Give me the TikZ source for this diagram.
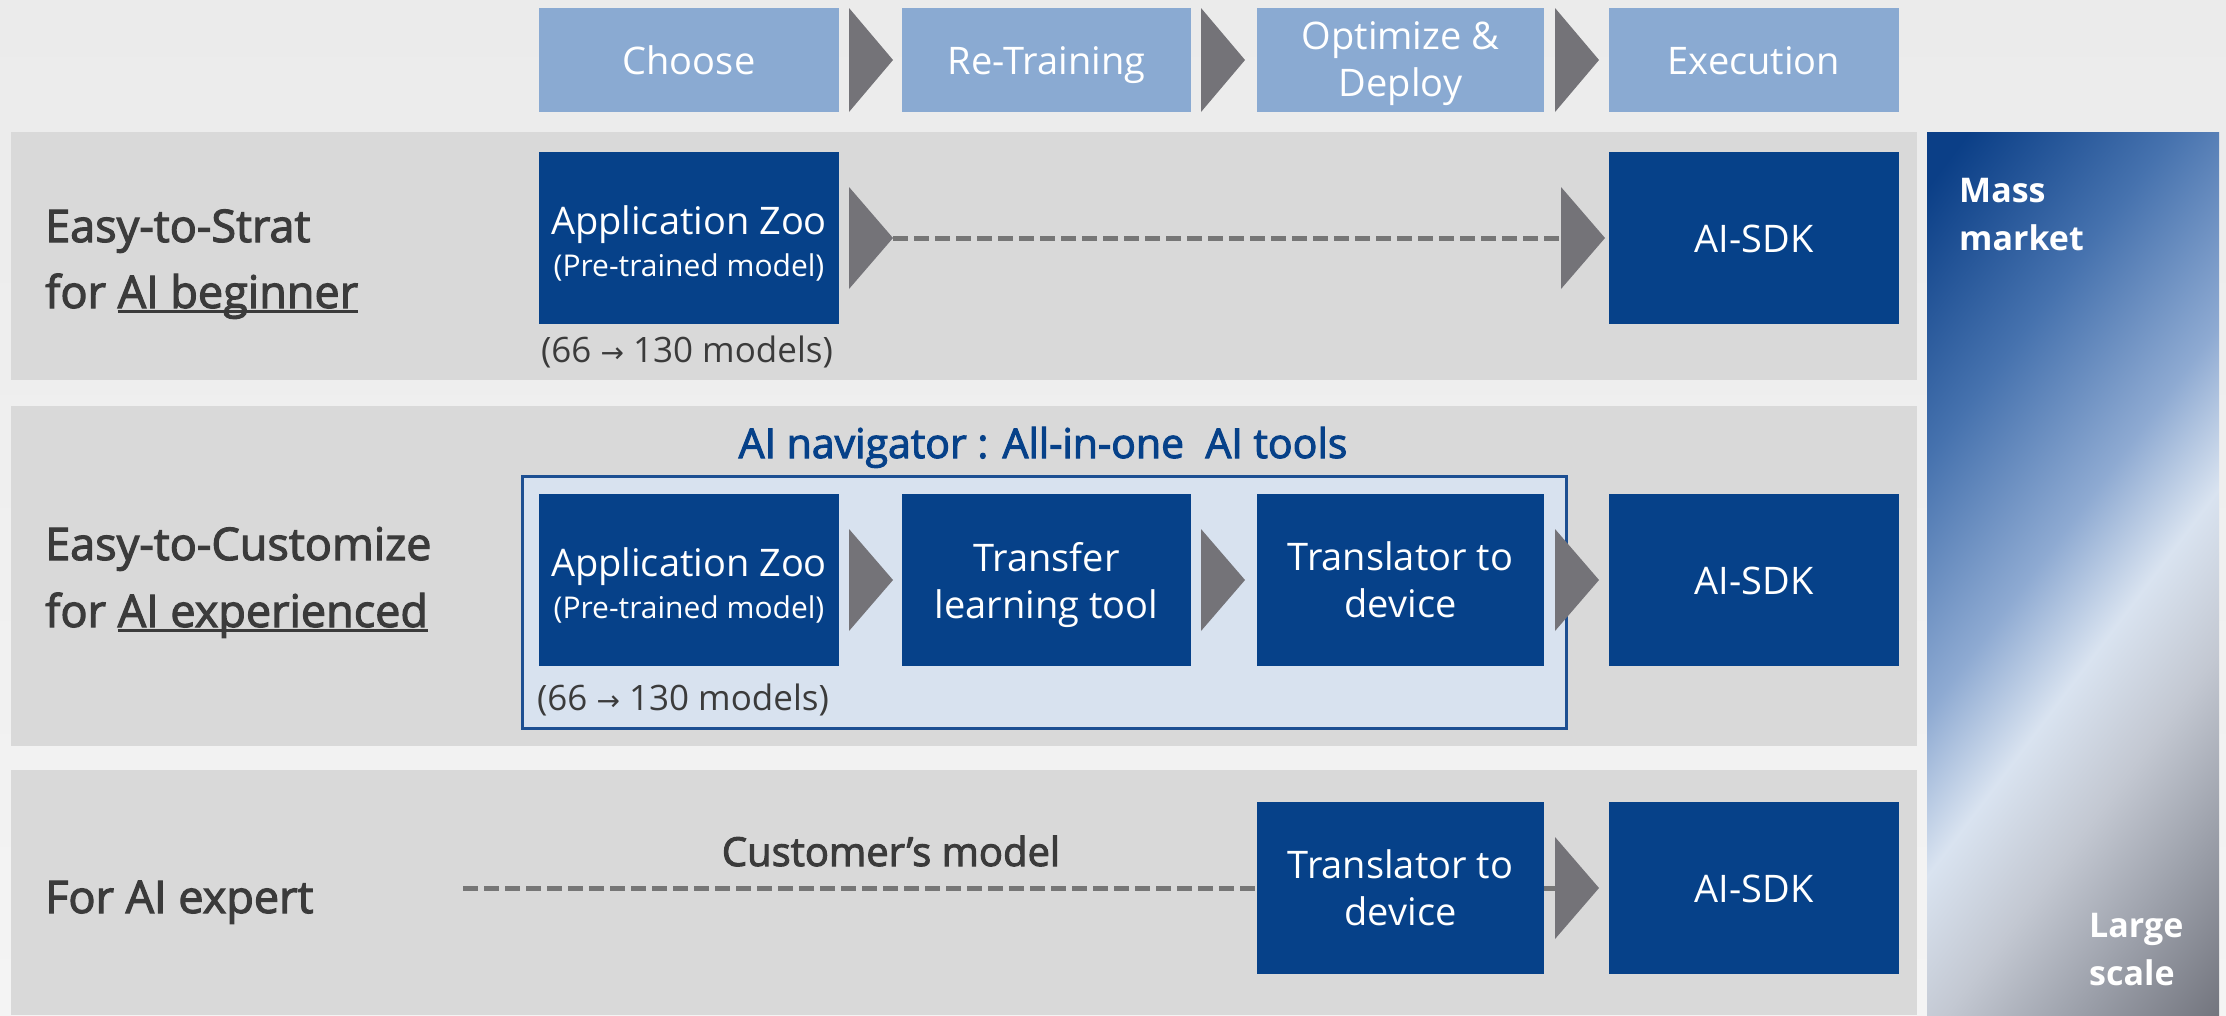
\documentclass[tikz,border=0pt]{standalone}
\usepackage{fontspec}
\setmainfont{Open Sans}
\newfontfamily\semifont[FakeBold=2.5]{Open Sans}
\newfontfamily\symfont{DejaVu Sans}
\usetikzlibrary{calc}

\definecolor{headblue}{HTML}{8AAAD2}
\definecolor{boxblue}{HTML}{064189}
\definecolor{chevgray}{HTML}{747378}
\definecolor{bandgray}{HTML}{D9D9D9}
\definecolor{navfill}{HTML}{D8E2EF}
\definecolor{navline}{HTML}{1D4F92}
\definecolor{labelgray}{HTML}{3B3B3B}
\definecolor{dashgray}{HTML}{767676}
\definecolor{bgtop}{HTML}{EBEBEB}
\definecolor{bgbot}{HTML}{F4F4F4}
\definecolor{barA}{HTML}{0B3F87}
\definecolor{barB}{HTML}{4672AE}
\definecolor{barC}{HTML}{8EAAD2}
\definecolor{barD}{HTML}{D9E3F0}
\definecolor{barE}{HTML}{C3C8D2}
\definecolor{barF}{HTML}{9A9EA8}
\definecolor{barG}{HTML}{73757E}

\pgfdeclarehorizontalshading{marketbar}{100bp}{color(0bp)=(barA); color(18bp)=(barA); color(33bp)=(barB); color(47bp)=(barC); color(56bp)=(barD); color(65bp)=(barE); color(75bp)=(barF); color(85bp)=(barG); color(100bp)=(barG)}

% chevron: anchor, shift, half height
\newcommand{\chev}[3]{\fill[chevgray] ($(#1)+(#2,-#3)$) -- ($(#1)+(#2+44,0)$) -- ($(#1)+(#2,#3)$) -- cycle;}
\newcommand{\aiuline}[1]{\setbox0=\hbox{#1}\rlap{\rule[-0.1em]{\wd0}{0.06em}}\box0}
\newcommand{\zootext}{\rule{0pt}{39pt}Application Zoo\\[-5pt]{\fontsize{30}{36}\selectfont (Pre-trained model)}}

\begin{document}
\begin{tikzpicture}[x=1pt,y=-1pt,
    headbox/.style={fill=headblue, text=white, minimum height=104, inner sep=0pt, outer sep=0pt, align=center, font=\fontsize{38}{47}\selectfont},
    bluebox/.style={fill=boxblue, text=white, minimum height=172, inner sep=0pt, outer sep=0pt, align=center, font=\fontsize{38}{47}\selectfont},
    oneline/.style={text height=28pt, text depth=0pt},
    band/.style={fill=bandgray},
    rowlabel/.style={anchor=base west, text=labelgray, inner sep=0pt, font=\semifont\fontsize{45}{66}\selectfont},
    counttext/.style={text=labelgray, inner sep=0pt, font=\fontsize{35}{40}\selectfont},
    dashline/.style={draw=dashgray, line width=5pt, dash pattern=on 15pt off 6pt},
    navbox/.style={fill=navfill, draw=navline, line width=3pt, inner sep=0pt},
    bartext/.style={anchor=base west, text=white, inner sep=0pt, font=\bfseries\fontsize{34}{48}\selectfont}]

	\useasboundingbox (0,0) rectangle (2226,1015);

	%Background
	\shade[top color=bgtop, middle color=white, bottom color=bgbot] (0,0) rectangle (2226,1015);

	%Bands
	\fill[band] (11,132) rectangle (1917,380);
	\fill[band] (11,406) rectangle (1917,746);
	\fill[band] (11,770) rectangle (1917,1015);

	%Market bar
	\shade[shading=marketbar, shading angle=-37] (1927,132) rectangle (2219,1015);
	\node[bartext] (mass) at (1959,202) {Mass};
	\node[bartext] (market) at (1959,250) {market};
	\node[bartext] (large) at (2089,937) {Large};
	\node[bartext] (scale) at (2089,985) {scale};

	%Steps
	\node[headbox, oneline, minimum width=300] (choose) at (689,60) {Choose};
	\node[headbox, oneline, minimum width=289] (retrain) at (1046.5,60) {Re-Training};
	\node[headbox, minimum width=287] (optimize) at (1400.5,60) {\rule{0pt}{36pt}Optimize \&\\Deploy};
	\node[headbox, oneline, minimum width=290] (execute) at (1754,60) {Execution};
	\chev{choose.east}{10}{52}
	\chev{retrain.east}{10}{52}
	\chev{optimize.east}{11}{52}

	%Beginner
	\node[rowlabel] (lab1a) at (45,242) {Easy-to-Strat};
	\node[rowlabel] (lab1b) at (45,308) {for \aiuline{AI beginner}};
	\node[bluebox, minimum width=300] (zoo1) at (689,238) {\zootext};
	\node[bluebox, oneline, minimum width=290] (sdk1) at (1754,238) {AI-SDK};
	\node[counttext] (count1) at ($(zoo1.south)+(-2,28)$) {(66 {\symfont\fontsize{28}{30}\selectfont →} 130 models)};
	\draw[dashline] ($(zoo1.east)+(54,0)$) -- ($(sdk1.west)+(-48,0)$);
	\chev{zoo1.east}{10}{51}
	\chev{sdk1.west}{-48}{51}

	%Experienced
	\node[rowlabel] (lab2a) at (45,560) {Easy-to-Customize};
	\node[rowlabel] (lab2b) at (45,627) {for \aiuline{AI experienced}};
	\node[navbox, minimum width=1044, minimum height=252] (nav) at (1044,602) {};
	\node[anchor=base, text=boxblue, inner sep=0pt, font=\semifont\fontsize{41}{44}\selectfont] (navtitle) at (1043,458) {AI navigator : All-in-one~ AI tools};
	\node[bluebox, minimum width=300] (zoo2) at (689,580) {\zootext};
	\node[bluebox, minimum width=289] (transfer) at (1046.5,580) {\rule{0pt}{40pt}Transfer\\learning tool};
	\node[bluebox, minimum width=287] (trans2) at (1400.5,580) {Translator to\\device};
	\node[bluebox, oneline, minimum width=290] (sdk2) at (1754,580) {AI-SDK};
	\node[counttext] (count2) at ($(zoo2.south)+(-6,34)$) {(66 {\symfont\fontsize{28}{30}\selectfont →} 130 models)};
	\chev{zoo2.east}{10}{51}
	\chev{transfer.east}{10}{51}
	\chev{trans2.east}{11}{51}

	%Expert
	\node[rowlabel] (lab3) at (45,913) {For AI expert};
	\node[bluebox, minimum width=287] (trans3) at (1400.5,888) {Translator to\\device};
	\node[bluebox, oneline, minimum width=290] (sdk3) at (1754,888) {AI-SDK};
	\coordinate (cmstart) at (463,888);
	\draw[dashline] (cmstart) -- (trans3);
	\draw[dashline] (trans3.east) -- ++(11,0);
	\chev{trans3.east}{11}{51}
	\node[anchor=base, text=labelgray, inner sep=0pt, font=\semifont\fontsize{40}{44}\selectfont] (custmodel) at (891,866) {Customer’s model};

\end{tikzpicture}
\end{document}
